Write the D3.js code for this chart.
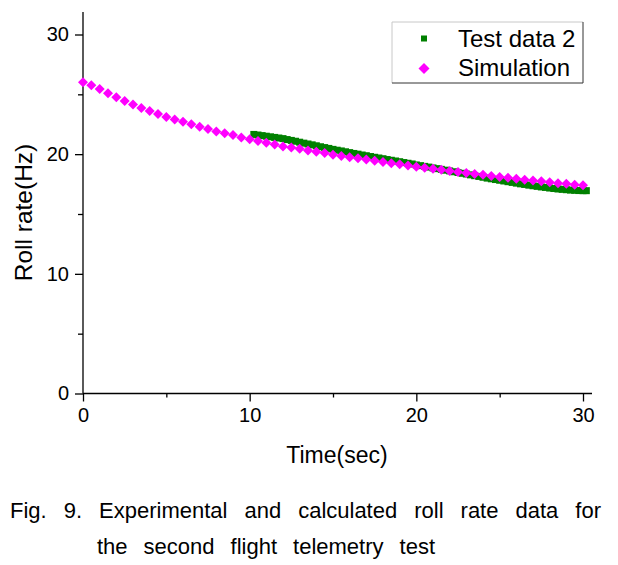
<!DOCTYPE html>
<html><head><meta charset="utf-8">
<script src="https://cdn.jsdelivr.net/npm/d3@7"></script>
<style>body{margin:0;background:#fff}svg{display:block}text{font-family:"Liberation Sans",Arial,sans-serif;fill:#000}</style>
</head><body>
<script>
// ---- data ----
const xTicks = [0, 10, 20, 30];
const yTicks = [0, 10, 20, 30];
const xMinorTicks = [5, 15, 25];
const yMinorTicks = [5, 15, 25];
const seriesNames = ["Test data 2", "Simulation"];
const simTime = [0,0.5,1,1.5,2,2.5,3,3.5,4,4.5,5,5.5,6,6.5,7,7.5,8,8.5,9,9.5,10,10.5,11,11.5,12,12.5,13,13.5,14,14.5,15,15.5,16,16.5,17,17.5,18,18.5,19,19.5,20,20.5,21,21.5,22,22.5,23,23.5,24,24.5,25,25.5,26,26.5,27,27.5,28,28.5,29,29.5,30];
const simRate = [26.0,25.75,25.45,25.1,24.75,24.45,24.15,23.85,23.6,23.35,23.1,22.9,22.7,22.5,22.3,22.1,21.9,21.75,21.6,21.4,21.25,21.1,20.95,20.8,20.65,20.55,20.45,20.3,20.2,20.1,19.95,19.85,19.75,19.65,19.55,19.45,19.35,19.25,19.15,19.05,18.95,18.87,18.78,18.7,18.6,18.52,18.43,18.35,18.27,18.18,18.1,18.02,17.95,17.87,17.8,17.73,17.65,17.58,17.52,17.45,17.4];
const testTime = [10.25,10.5,10.75,11,11.25,11.5,11.75,12,12.25,12.5,12.75,13,13.25,13.5,13.75,14,14.25,14.5,14.75,15,15.25,15.5,15.75,16,16.25,16.5,16.75,17,17.25,17.5,17.75,18,18.25,18.5,18.75,19,19.25,19.5,19.75,20,20.25,20.5,20.75,21,21.25,21.5,21.75,22,22.25,22.5,22.75,23,23.25,23.5,23.75,24,24.25,24.5,24.75,25,25.25,25.5,25.75,26,26.25,26.5,26.75,27,27.25,27.5,27.75,28,28.25,28.5,28.75,29,29.25,29.5,29.75,30,30.2];
const testRate = [21.65,21.6,21.55,21.5,21.45,21.4,21.35,21.3,21.22,21.15,21.08,21.0,20.92,20.85,20.78,20.7,20.62,20.55,20.48,20.4,20.33,20.27,20.2,20.13,20.06,20.0,19.93,19.87,19.8,19.74,19.68,19.62,19.55,19.49,19.43,19.37,19.3,19.24,19.18,19.1,19.04,18.98,18.92,18.85,18.79,18.73,18.66,18.6,18.53,18.47,18.4,18.34,18.27,18.2,18.14,18.07,18.0,17.94,17.88,17.82,17.76,17.7,17.64,17.58,17.52,17.47,17.41,17.36,17.31,17.26,17.22,17.17,17.13,17.09,17.06,17.03,17.0,16.98,16.96,16.95,16.95];
const xTitle = "Time(sec)";
const yTitle = "Roll rate(Hz)";
const captionLine1 = ["Fig.", "9.", "Experimental", "and", "calculated", "roll", "rate", "data", "for"];
const captionLine2 = ["the", "second", "flight", "telemetry", "test"];

// ---- layout ----
const W = 618, H = 565;
const svg = d3.select("body").append("svg").attr("width", W).attr("height", H);
const x = d3.scaleLinear().domain([0, 30]).range([83, 583]);
const y = d3.scaleLinear().domain([0, 30]).range([393.5, 34.5]);
const xAxisEnd = 592, yAxisTop = 12;

const g = svg.append("g");
g.append("line").attr("x1", x(0)).attr("x2", xAxisEnd).attr("y1", y(0)).attr("y2", y(0)).attr("stroke", "#000").attr("stroke-width", 1.3);
g.append("line").attr("x1", x(0)).attr("x2", x(0)).attr("y1", y(0)).attr("y2", yAxisTop).attr("stroke", "#000").attr("stroke-width", 1.3);

const xAxis = d3.axisBottom(x).tickValues(xTicks).tickSize(8).tickPadding(6).tickFormat(d3.format("d"));
const xa = svg.append("g").attr("transform", `translate(0,${y(0)})`).call(xAxis);
xa.select(".domain").remove();
xa.selectAll("line").attr("stroke-width", 1.3);
xa.selectAll("text").attr("font-size", 20).attr("font-family", "Liberation Sans, Arial, sans-serif");
const xaMinor = d3.axisBottom(x).tickValues(xMinorTicks).tickSize(4).tickFormat("");
const xm = svg.append("g").attr("transform", `translate(0,${y(0)})`).call(xaMinor);
xm.select(".domain").remove(); xm.selectAll("line").attr("stroke-width", 1.3);

const yAxis = d3.axisLeft(y).tickValues(yTicks).tickSize(8).tickPadding(6).tickFormat(d3.format("d"));
const ya = svg.append("g").attr("transform", `translate(${x(0)},0)`).call(yAxis);
ya.select(".domain").remove();
ya.selectAll("line").attr("stroke-width", 1.3);
ya.selectAll("text").attr("font-size", 20).attr("font-family", "Liberation Sans, Arial, sans-serif");
const yaMinor = d3.axisLeft(y).tickValues(yMinorTicks).tickSize(5).tickFormat("");
const ym = svg.append("g").attr("transform", `translate(${x(0)},0)`).call(yaMinor);
ym.select(".domain").remove(); ym.selectAll("line").attr("stroke-width", 1.3);

// titles
svg.append("text").attr("x", 337).attr("y", 463).attr("text-anchor", "middle").attr("font-size", 23).text(xTitle);
svg.append("text").attr("transform", "translate(32,212.5) rotate(-90)").attr("text-anchor", "middle").attr("font-size", 24.5).text(yTitle);

// data
const testData = testTime.map((t, i) => ({t, v: testRate[i]}));
const simData = simTime.map((t, i) => ({t, v: simRate[i]}));
const sq = 7;
svg.append("g").selectAll("rect").data(testData).join("rect")
  .attr("x", d => x(d.t) - sq / 2).attr("y", d => y(d.v) - sq / 2)
  .attr("width", sq).attr("height", sq).attr("fill", "#008000");
const diamond = r => `M0,${-r}L${r},0L0,${r}L${-r},0Z`;
svg.append("g").selectAll("path").data(simData).join("path")
  .attr("transform", d => `translate(${x(d.t)},${y(d.v)})`)
  .attr("d", diamond(5)).attr("fill", "#ff00ff");

// legend
const lg = svg.append("g");
const lx0 = 392, lx1 = 583, ly0 = 22, ly1 = 83;
lg.append("rect").attr("x", lx0).attr("y", ly0).attr("width", lx1 - lx0).attr("height", ly1 - ly0).attr("fill", "#fff");
lg.append("line").attr("x1", lx0).attr("x2", lx1).attr("y1", ly0).attr("y2", ly0).attr("stroke", "#c8c8c8");
lg.append("line").attr("x1", lx0).attr("x2", lx0).attr("y1", ly0).attr("y2", ly1).attr("stroke", "#c8c8c8");
lg.append("line").attr("x1", lx1).attr("x2", lx1).attr("y1", ly0).attr("y2", ly1).attr("stroke", "#333");
lg.append("line").attr("x1", lx0).attr("x2", lx1).attr("y1", ly1).attr("y2", ly1).attr("stroke", "#333");
lg.append("rect").attr("x", 424 - 3).attr("y", 38.5 - 3).attr("width", 6).attr("height", 6).attr("fill", "#008000");
lg.append("path").attr("transform", "translate(424,68.5)").attr("d", diamond(5.5)).attr("fill", "#ff00ff");
lg.append("text").attr("x", 458).attr("y", 46.5).attr("font-size", 24).text(seriesNames[0]);
lg.append("text").attr("x", 458).attr("y", 76).attr("font-size", 24).text(seriesNames[1]);

// caption (justified)
function layoutWords(words, x0, x1, yb) {
  const texts = words.map(w => svg.append("text").attr("y", yb).attr("font-size", 22).text(w));
  const widths = texts.map(t => t.node().getComputedTextLength());
  const gap = (x1 - x0 - d3.sum(widths)) / (words.length - 1);
  let cx = x0;
  texts.forEach((t, i) => { t.attr("x", cx); cx += widths[i] + gap; });
}
layoutWords(captionLine1, 10, 601, 518);
layoutWords(captionLine2, 97, 435, 554);
</script>
</body></html>
